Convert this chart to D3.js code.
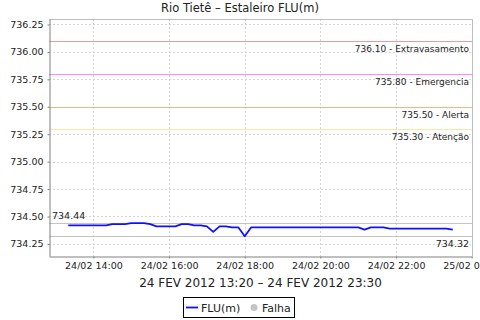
<!DOCTYPE html>
<html>
<head>
<meta charset="utf-8">
<script src="https://cdn.jsdelivr.net/npm/d3@7"></script>
<style>
  html, body { margin: 0; padding: 0; background: #fff; }
  svg { display: block; font-family: "DejaVu Sans", sans-serif; }
</style>
</head>
<body>
<div id="chart"></div>
<script>
const title = "Rio Tietê – Estaleiro FLU(m)";
const xLabel = "24 FEV 2012 13:20 – 24 FEV 2012 23:30";

const times = [
  "2012-02-24T13:20", "2012-02-24T13:30", "2012-02-24T13:40", "2012-02-24T13:50",
  "2012-02-24T14:00", "2012-02-24T14:10", "2012-02-24T14:20", "2012-02-24T14:30",
  "2012-02-24T14:40", "2012-02-24T14:50", "2012-02-24T15:00", "2012-02-24T15:10",
  "2012-02-24T15:20", "2012-02-24T15:30", "2012-02-24T15:40", "2012-02-24T15:50",
  "2012-02-24T16:00", "2012-02-24T16:10", "2012-02-24T16:20", "2012-02-24T16:30",
  "2012-02-24T16:40", "2012-02-24T16:50", "2012-02-24T17:00", "2012-02-24T17:10",
  "2012-02-24T17:20", "2012-02-24T17:30", "2012-02-24T17:40", "2012-02-24T17:50",
  "2012-02-24T18:00", "2012-02-24T18:10", "2012-02-24T18:20", "2012-02-24T18:30",
  "2012-02-24T18:40", "2012-02-24T18:50", "2012-02-24T19:00", "2012-02-24T19:10",
  "2012-02-24T19:20", "2012-02-24T19:30", "2012-02-24T19:40", "2012-02-24T19:50",
  "2012-02-24T20:00", "2012-02-24T20:10", "2012-02-24T20:20", "2012-02-24T20:30",
  "2012-02-24T20:40", "2012-02-24T20:50", "2012-02-24T21:00", "2012-02-24T21:10",
  "2012-02-24T21:20", "2012-02-24T21:30", "2012-02-24T21:40", "2012-02-24T21:50",
  "2012-02-24T22:00", "2012-02-24T22:10", "2012-02-24T22:20", "2012-02-24T22:30",
  "2012-02-24T22:40", "2012-02-24T22:50", "2012-02-24T23:00", "2012-02-24T23:10",
  "2012-02-24T23:20", "2012-02-24T23:30"
];

const levels = [
  734.42, 734.42, 734.42, 734.42, 734.42, 734.42, 734.42, 734.43,
  734.43, 734.43, 734.44, 734.44, 734.44, 734.43, 734.41, 734.41,
  734.41, 734.41, 734.43, 734.43, 734.42, 734.42, 734.41, 734.36,
  734.41, 734.41, 734.40, 734.40, 734.32, 734.40, 734.40, 734.40,
  734.40, 734.40, 734.40, 734.40, 734.40, 734.40, 734.40, 734.40,
  734.40, 734.40, 734.40, 734.40, 734.40, 734.40, 734.40, 734.38,
  734.40, 734.40, 734.40, 734.39, 734.39, 734.39, 734.39, 734.39,
  734.39, 734.39, 734.39, 734.39, 734.39, 734.38
];

const thresholdValues = [736.10, 735.80, 735.50, 735.30];
const thresholdNames = ["Extravasamento", "Emergencia", "Alerta", "Atenção"];
const thresholdColors = ["#ee9a9a", "#ff88ff", "#f2b684", "#f8eaa6"];

const yTicks = [734.25, 734.50, 734.75, 735.00, 735.25, 735.50, 735.75, 736.00, 736.25];
const xTicks = ["2012-02-24T14:00", "2012-02-24T16:00", "2012-02-24T18:00",
  "2012-02-24T20:00", "2012-02-24T22:00", "2012-02-25T00:00"];

const width = 480;
const height = 320;
const plot = { left: 49, right: 472, top: 19, bottom: 256 };

const parse = d3.timeParse("%Y-%m-%dT%H:%M");
const rows = times.map((t, i) => ({ date: parse(t), value: levels[i] }));

const svg = d3.select("#chart").append("svg")
  .attr("width", width).attr("height", height);

// JFreeChart style: 5% margin either side of the data range
const t0 = rows[0].date, t1 = rows[rows.length - 1].date;
const pad = (t1 - t0) * 0.05;
const x = d3.scaleTime()
  .domain([new Date(+t0 - pad), new Date(+t1 + pad)])
  .range([plot.left, plot.right]);
const y = d3.scaleLinear().domain([734.14, 736.30]).range([plot.bottom, plot.top]);

svg.append("text")
  .attr("x", 240).attr("y", 12)
  .attr("text-anchor", "middle")
  .attr("font-size", "11.5px")
  .attr("fill", "#222")
  .text(title);

// gridlines
const grid = svg.append("g").attr("stroke", "#d4d4d4").attr("stroke-dasharray", "2,2");
grid.selectAll("line.h").data(yTicks).join("line")
  .attr("x1", plot.left).attr("x2", plot.right)
  .attr("y1", (d) => Math.round(y(d)) + 0.5).attr("y2", (d) => Math.round(y(d)) + 0.5);
grid.selectAll("line.v").data(xTicks.map(parse)).join("line")
  .attr("x1", (d) => Math.round(x(d)) + 0.5).attr("x2", (d) => Math.round(x(d)) + 0.5)
  .attr("y1", plot.top).attr("y2", plot.bottom);

// plot border (top/right)
svg.append("path")
  .attr("d", `M${plot.left},${plot.top + 0.5}H${plot.right + 0.5}V${plot.bottom}`)
  .attr("fill", "none").attr("stroke", "#bdbdbd");

// threshold markers
const marks = svg.append("g");
thresholdValues.forEach((v, i) => {
  const yy = Math.round(y(v)) + 0.5;
  marks.append("line")
    .attr("x1", plot.left).attr("x2", plot.right)
    .attr("y1", yy).attr("y2", yy)
    .attr("stroke", thresholdColors[i]).attr("stroke-width", 1.2);
  marks.append("text")
    .attr("x", plot.right - 3).attr("y", yy + 10)
    .attr("text-anchor", "end")
    .attr("font-size", "9px").attr("fill", "#222")
    .text(`${v.toFixed(2)} - ${thresholdNames[i]}`);
});

// max / min lines
const maxV = d3.max(levels), minV = d3.min(levels);
[maxV, minV].forEach((v) => {
  const yy = Math.round(y(v)) + 0.5;
  marks.append("line")
    .attr("x1", plot.left).attr("x2", plot.right)
    .attr("y1", yy).attr("y2", yy)
    .attr("stroke", "#c4c4c4").attr("stroke-width", 1.2);
});
marks.append("text")
  .attr("x", plot.left + 3).attr("y", y(maxV) - 4.5)
  .attr("font-size", "9.5px").attr("fill", "#222")
  .text(maxV.toFixed(2));
marks.append("text")
  .attr("x", plot.right - 3).attr("y", y(minV) + 11)
  .attr("text-anchor", "end")
  .attr("font-size", "9.5px").attr("fill", "#222")
  .text(minV.toFixed(2));

// series
const line = d3.line().x((d) => x(d.date)).y((d) => y(d.value));
svg.append("path")
  .datum(rows)
  .attr("fill", "none")
  .attr("stroke", "#1010ff")
  .attr("stroke-width", 1.8)
  .attr("stroke-linejoin", "round")
  .attr("d", line);

// axes
const yAxis = svg.append("g")
  .attr("transform", `translate(${plot.left + 0.5},0)`)
  .call(d3.axisLeft(y).tickValues(yTicks).tickFormat(d3.format(".2f")).tickSize(2).tickPadding(4).tickSizeOuter(0));
const xAxis = svg.append("g")
  .attr("transform", `translate(0,${plot.bottom + 0.5})`)
  .call(d3.axisBottom(x).tickValues(xTicks.map(parse)).tickFormat(d3.timeFormat("%d/%m %H:%M")).tickSize(2).tickPadding(4).tickSizeOuter(0));
[yAxis, xAxis].forEach((g) => {
  g.select(".domain").attr("stroke", "#808080");
  g.selectAll(".tick line").attr("stroke", "#808080");
  g.selectAll("text").attr("font-family", "DejaVu Sans").attr("font-size", "9.5px").attr("fill", "#222");
});

svg.append("text")
  .attr("x", (plot.left + plot.right) / 2).attr("y", 287)
  .attr("text-anchor", "middle")
  .attr("font-size", "12px").attr("fill", "#222")
  .text(xLabel);

// legend
const legend = svg.append("g");
legend.append("rect")
  .attr("x", 183.5).attr("y", 297.5).attr("width", 111).attr("height", 20)
  .attr("fill", "#fff").attr("stroke", "#000");
legend.append("line")
  .attr("x1", 186).attr("x2", 198).attr("y1", 307.5).attr("y2", 307.5)
  .attr("stroke", "#1010ff").attr("stroke-width", 1.8);
legend.append("text")
  .attr("x", 201).attr("y", 311.5).attr("font-size", "11px").attr("fill", "#222")
  .text("FLU(m)");
legend.append("circle")
  .attr("cx", 254).attr("cy", 307.5).attr("r", 3.5).attr("fill", "#c4c4c4");
legend.append("text")
  .attr("x", 262).attr("y", 311.5).attr("font-size", "11px").attr("fill", "#222")
  .text("Falha");
</script>
</body>
</html>
